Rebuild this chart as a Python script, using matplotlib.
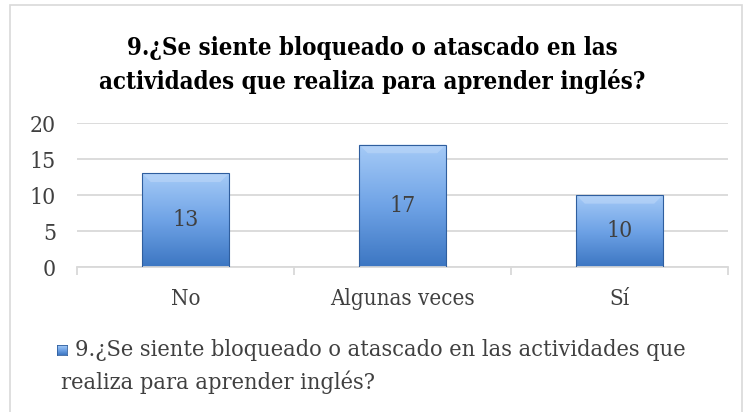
import matplotlib
matplotlib.use("Agg")
import matplotlib.pyplot as plt
import numpy as np
from matplotlib.patches import Rectangle, Polygon
from matplotlib.colors import LinearSegmentedColormap

categories = ["No", "Algunas veces", "Sí"]
values = [13, 17, 10]
yticks = [0, 5, 10, 15, 20]
title = "9.¿Se siente bloqueado o atascado en las\nactividades que realiza para aprender inglés?"
legend_line1 = "9.¿Se siente bloqueado o atascado en las actividades que"
legend_line2 = "realiza para aprender inglés?"

W, H = 745, 412
fig = plt.figure(figsize=(W / 100, H / 100), dpi=100)
fig.patch.set_facecolor("white")

fam = dict(family="DejaVu Serif", stretch="condensed")
txtcol = "#404040"

# outer border
fig.add_artist(Rectangle((10 / W, -0.01), (742 - 10) / W, (412 - 5) / H + 0.01,
                         transform=fig.transFigure, fill=False, ec="#D9D9D9", lw=1.2))

ax = fig.add_axes([77 / W, 1 - 267 / H, (728 - 77) / W, (267 - 123) / H])
ax.set_xlim(-0.5, 2.5)
ax.set_ylim(0, 20)
ax.set_facecolor("white")

cmap = LinearSegmentedColormap.from_list("g", ["#3C76C2", "#6FA3E6", "#A6CBF7"])
grad = np.linspace(1, 0, 256).reshape(-1, 1)

bw = 0.4
for i, v in enumerate(values):
    bars = ax.bar(i, v, width=bw, color="none", ec="#2F5E9E", lw=0.8, zorder=3)
    rect = bars[0]
    im = ax.imshow(grad, cmap=cmap, aspect="auto",
                   extent=(i - bw / 2, i + bw / 2, 0, v), zorder=2)
    im.set_clip_path(rect)
    # top bevel highlight
    bev_x = 0.04
    bev_y = 1.2
    ax.add_patch(Polygon([(i - bw / 2, v), (i + bw / 2, v),
                          (i + bw / 2 - bev_x, v - bev_y), (i - bw / 2 + bev_x, v - bev_y)],
                         closed=True, fc="#BCD7F9", ec="none", alpha=0.6, zorder=2.5))
    ax.text(i, v / 2, str(v), ha="center", va="center", fontsize=16.5,
            color=txtcol, zorder=4, **fam)

ax.set_xlim(-0.5, 2.5)
ax.set_ylim(0, 20)
ax.set_yticks(yticks)
ax.set_yticklabels([str(t) for t in yticks], fontsize=16.5, color=txtcol, **fam)
ax.yaxis.grid(True, color="#D9D9D9", lw=1.3, zorder=0)
ax.tick_params(axis="y", length=0, pad=15)
ax.set_xticks([0, 1, 2])
ax.set_xticklabels(categories, fontsize=16, color=txtcol, **fam)
ax.set_xticks([-0.5, 0.5, 1.5, 2.5], minor=True)
ax.tick_params(axis="x", which="major", length=0, pad=15)
ax.tick_params(axis="x", which="minor", length=6, color="#D9D9D9", width=1.3)
for s in ["top", "right", "left"]:
    ax.spines[s].set_visible(False)
ax.spines["bottom"].set_color("#D9D9D9")
ax.spines["bottom"].set_linewidth(1.3)
ax.set_axisbelow(True)

fig.text(0.5, 1 - 65 / H, title, ha="center", va="center", fontsize=17.2,
         fontweight="bold", color="black", linespacing=1.45, **fam)

# legend
ms = 10
lax = fig.add_axes([57 / W, 1 - 355 / H, ms / W, ms / H])
lax.imshow(grad, cmap=cmap, aspect="auto", extent=(0, 1, 0, 1))
lax.set_xlim(0, 1); lax.set_ylim(0, 1)
lax.set_xticks([]); lax.set_yticks([])
for s in lax.spines.values():
    s.set_color("#2F5E9E"); s.set_linewidth(0.6)
fig.text(75 / W, 1 - 350 / H, legend_line1, ha="left", va="center", fontsize=16.8,
         color=txtcol, **fam)
fig.text(61 / W, 1 - 382 / H, legend_line2, ha="left", va="center", fontsize=16.8,
         color=txtcol, **fam)

fig.savefig("out.png", dpi=100, facecolor="white")
